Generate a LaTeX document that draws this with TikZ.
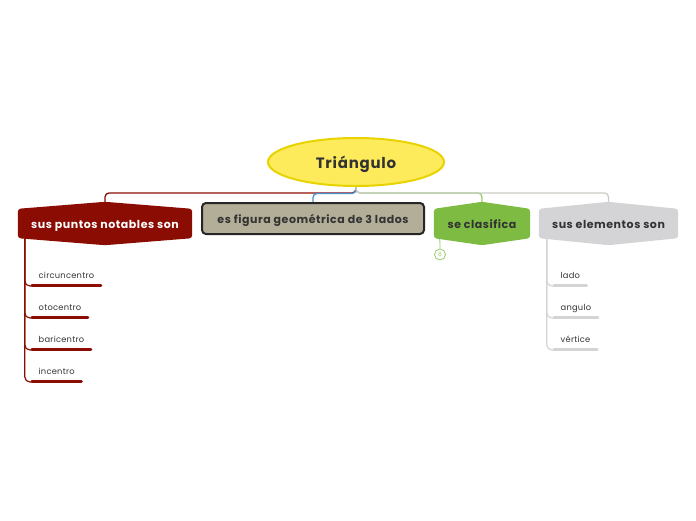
\documentclass[tikz,border=0pt]{standalone}
\usepackage{fontspec}
\setmainfont{Poppins}
\newfontfamily\hfont[LetterSpace=5]{Poppins}
\newfontfamily\ifont[LetterSpace=3]{Poppins}
\usetikzlibrary{calc,shapes.geometric}
\definecolor{tred}{HTML}{8B0C02}
\definecolor{tgreen}{HTML}{7DBB42}
\definecolor{tgreenl}{HTML}{9ACD6A}
\definecolor{tgray}{HTML}{D4D4D6}
\definecolor{tgrayline}{HTML}{C9CCC4}
\definecolor{tkhaki}{HTML}{B2AE98}
\definecolor{tyellow}{HTML}{FDEB5C}
\definecolor{tyellowd}{HTML}{E8D300}
\definecolor{tblue}{HTML}{4A90D0}
\definecolor{tdark}{HTML}{333333}
\definecolor{tborder}{HTML}{262626}
\pgfdeclarelayer{bg}
\pgfsetlayers{bg,main}
\newcommand\hexfill[2]{%
  \fill[#2, rounded corners=3pt] (#1.north west) -- ([yshift=7pt]#1.north) -- (#1.north east)
   -- (#1.south east) -- ([yshift=-7pt]#1.south) -- (#1.south west) -- cycle;}
\tikzset{
  ell/.style={ellipse, fill=tyellow, draw=tyellowd, line width=2pt, minimum width=176pt,
    minimum height=48pt, inner sep=0pt, text height=13pt, text depth=0.5pt,
    font=\fontsize{15}{17}\hfont\bfseries, text=tdark},
  hexnode/.style={rectangle, inner sep=0pt, minimum height=29pt, text height=11pt, text depth=0.5pt,
    font=\fontsize{11}{13}\hfont\bfseries, text=tdark},
  rbox/.style={rectangle, rounded corners=4pt, fill=tkhaki, draw=tborder, line width=2pt,
    minimum width=222pt, minimum height=31pt, inner sep=0pt, text height=11pt, text depth=0.5pt,
    font=\fontsize{11}{13}\hfont\bfseries, text=tdark},
  conn/.style={line width=1.3pt, rounded corners=4pt},
  sub/.style={line width=1.2pt, rounded corners=5pt},
  uline/.style={line width=3pt, line cap=round},
  item/.style={anchor=west, inner xsep=6.5pt, inner ysep=7.5pt, text height=8.5pt, text depth=0pt,
    font=\fontsize{8.3}{10}\ifont, text=tdark},
}
\begin{document}
\begin{tikzpicture}[x=1pt,y=-1pt]
\useasboundingbox (0,0) rectangle (696,520);
\node[ell] (root) at (356,162) {Triángulo};
\node[hexnode, minimum width=174pt, text=white] (n1) at (105,223.5) {sus puntos notables son};
\node[rbox] (n2) at (313,218.5) {es figura geométrica de 3 lados};
\node[hexnode, minimum width=96pt] (n3) at (482,223.5) {se clasifica};
\node[hexnode, minimum width=139pt] (n4) at (608.5,223.5) {sus elementos son};

\node[item] (l1) at (32,274) {circuncentro};
\node[item] (l2) at (32,306) {otocentro};
\node[item] (l3) at (32,338) {baricentro};
\node[item] (l4) at (32,370) {incentro};

\node[item] (r1) at (554,274) {lado};
\node[item] (r2) at (554,306) {angulo};
\node[item] (r3) at (554,338) {vértice};

\node[circle, draw=tgreenl, line width=0.8pt, minimum size=11pt, inner sep=0pt,
  font=\fontsize{6}{6}\selectfont, text=tgreenl] (badge) at (440,254.5) {8};
\coordinate (badgetop) at ($(n3.south west)+(6,0)$);

\begin{pgfonlayer}{bg}
  \draw[conn, tred] (root.south) -- ++(0,6) -| (n1.north);
  \draw[conn, tblue] (root.south) -- ++(0,6.5) -| (n2.north);
  \draw[conn, tgreenl] (root.south) -- ++(0,6) -| (n3.north);
  \draw[conn, tgrayline] (root.south) -- ++(0,6) -| (n4.north);
  \coordinate (lt) at ($(n1.south west)+(7,0)$);
  \foreach \i in {1,2,3,4} {
    \draw[sub, tred] (lt) |- (l\i.south west);
    \draw[uline, tred] (l\i.south west) -- (l\i.south east);
  }
  \coordinate (rt) at ($(n4.south west)+(8,0)$);
  \foreach \i in {1,2,3} {
    \draw[sub, tgray] (rt) |- (r\i.south west);
    \draw[uline, tgray] (r\i.south west) -- (r\i.south east);
  }
  \draw[tgreenl, line width=0.8pt] (badge.north) -- (badgetop |- n3.south);
  \hexfill{n1}{tred}
  \hexfill{n3}{tgreen}
  \hexfill{n4}{tgray}
\end{pgfonlayer}
\end{tikzpicture}
\end{document}
